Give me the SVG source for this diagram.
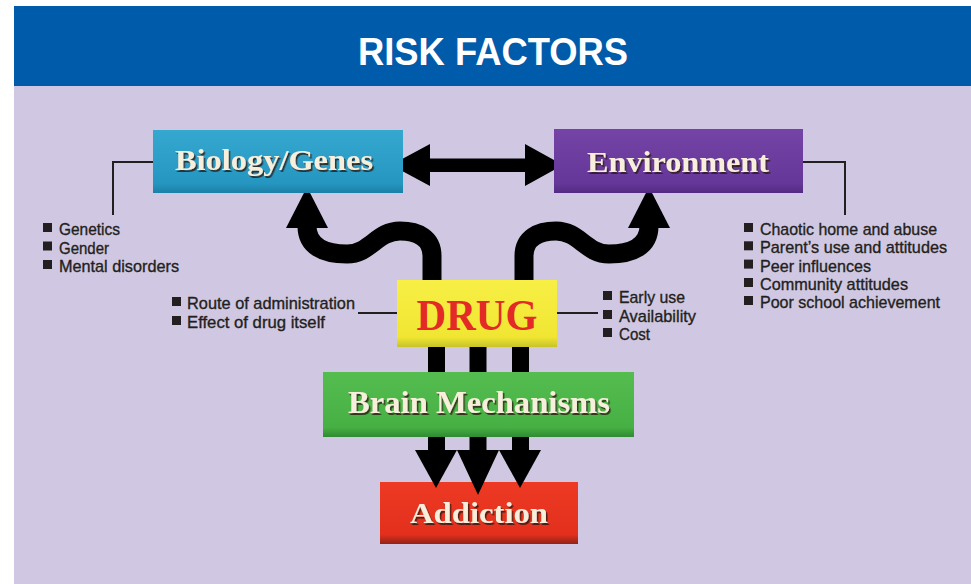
<svg xmlns="http://www.w3.org/2000/svg" width="971" height="584" viewBox="0 0 971 584">
<defs>
<style>
.lbl{font-family:"Liberation Serif","Times New Roman",serif;font-weight:bold;fill:#F7EEDB;text-anchor:middle}
.lst{font-family:"Liberation Sans",Arial,sans-serif;font-size:17px;fill:#231F20;stroke:#231F20;stroke-width:0.35}
.ln{stroke:#231F20;stroke-width:2;fill:none}
.blt{fill:#231F20}
.worm{stroke:#000;stroke-width:19;fill:none}
</style>
<filter id="ts" x="-10%" y="-20%" width="120%" height="150%">
<feDropShadow dx="1.5" dy="2" stdDeviation="0.7" flood-color="#2a1a10" flood-opacity="0.8"/>
</filter>
<linearGradient id="gBio" x1="0" y1="0" x2="0" y2="1"><stop offset="0" stop-color="#35A8D0"/><stop offset="0.85" stop-color="#2596C0"/><stop offset="1" stop-color="#1B7FA6"/></linearGradient>
<linearGradient id="gEnv" x1="0" y1="0" x2="0" y2="1"><stop offset="0" stop-color="#7444A6"/><stop offset="0.85" stop-color="#653799"/><stop offset="1" stop-color="#522a82"/></linearGradient>
<linearGradient id="gDrug" x1="0" y1="0" x2="0" y2="1"><stop offset="0" stop-color="#F7EF45"/><stop offset="0.85" stop-color="#F0E632"/><stop offset="1" stop-color="#C9C22a"/></linearGradient>
<linearGradient id="gBrain" x1="0" y1="0" x2="0" y2="1"><stop offset="0" stop-color="#55BD50"/><stop offset="0.85" stop-color="#47B044"/><stop offset="1" stop-color="#2f8a33"/></linearGradient>
<linearGradient id="gAdd" x1="0" y1="0" x2="0" y2="1"><stop offset="0" stop-color="#EE3A24"/><stop offset="0.85" stop-color="#E2301D"/><stop offset="1" stop-color="#8f2318"/></linearGradient>
</defs>
<rect x="0" y="0" width="971" height="584" fill="#FFFFFF"/>
<rect x="14" y="86" width="957" height="498" fill="#D0C8E2"/>
<g id="header">
<rect x="14" y="6" width="957" height="80" fill="#005BAA"/>
<text x="493" y="65" font-family="'Liberation Sans',Arial,sans-serif" font-weight="bold" font-size="39" fill="#FFFFFF" text-anchor="middle" textLength="270" lengthAdjust="spacingAndGlyphs">RISK FACTORS</text>
</g>
<g id="addiction">
<rect x="380" y="482" width="198" height="62" fill="url(#gAdd)"/>
<text class="lbl" x="479" y="523" font-size="30" textLength="138" lengthAdjust="spacingAndGlyphs" filter="url(#ts)">Addiction</text>
</g>
<g id="connectors">
<polyline class="ln" points="153,162 113,162 113,215"/>
<polyline class="ln" points="803,162 845,162 845,215"/>
<line class="ln" x1="358" y1="313" x2="397" y2="313"/>
<line class="ln" x1="557" y1="313" x2="598" y2="313"/>
<polygon points="391,165 430,144 430,158.5 525,158.5 525,144 563,165 525,186 525,172 430,172 430,186" fill="#000"/>
<path class="worm" d="M432,281 L432,256 C432,238 418,231 400,231 C377,231 370,254 347,254 C323,254 307,246 307,226"/>
<polygon points="286,228 328,228 307,187" fill="#000"/>
<path class="worm" d="M524,281 L524,256 C524,238 538,231 556,231 C579,231 586,254 609,254 C633,254 649,246 649,226"/>
<polygon points="628,228 670,228 649,187" fill="#000"/>
<rect x="428" y="345" width="17" height="107" fill="#000"/>
<rect x="469.5" y="345" width="17" height="107" fill="#000"/>
<rect x="512" y="345" width="17" height="107" fill="#000"/>
<polygon points="415,450 457,450 436,488" fill="#000"/>
<polygon points="457,450 499,450 478,495" fill="#000"/>
<polygon points="499,450 541,450 520,488" fill="#000"/>
</g>
<g id="brain">
<rect x="323" y="372" width="311" height="65" fill="url(#gBrain)"/>
<text class="lbl" x="479" y="413" font-size="31" textLength="262" lengthAdjust="spacingAndGlyphs" filter="url(#ts)">Brain Mechanisms</text>
</g>
<g id="drug">
<rect x="397" y="280" width="160" height="67" fill="url(#gDrug)"/>
<text x="477" y="330" font-family="'Liberation Serif','Times New Roman',serif" font-weight="bold" font-size="44" fill="#E42A26" text-anchor="middle" textLength="121" lengthAdjust="spacingAndGlyphs">DRUG</text>
</g>
<g id="biology">
<rect x="153" y="130" width="250" height="63" fill="url(#gBio)"/>
<text class="lbl" x="274" y="170" font-size="30" textLength="198" lengthAdjust="spacingAndGlyphs" filter="url(#ts)">Biology/Genes</text>
</g>
<g id="environment">
<rect x="554" y="129" width="249" height="64" fill="url(#gEnv)"/>
<text class="lbl" x="678" y="172" font-size="30" textLength="182" lengthAdjust="spacingAndGlyphs" filter="url(#ts)">Environment</text>
</g>
<g id="bio-list">
<rect class="blt" x="43" y="223" width="9" height="9"/>
<rect class="blt" x="43" y="241.5" width="9" height="9"/>
<rect class="blt" x="43" y="260" width="9" height="9"/>
<text class="lst" x="59" y="235" textLength="61" lengthAdjust="spacingAndGlyphs">Genetics</text>
<text class="lst" x="59" y="253.5" textLength="50" lengthAdjust="spacingAndGlyphs">Gender</text>
<text class="lst" x="59" y="272" textLength="120" lengthAdjust="spacingAndGlyphs">Mental disorders</text>
</g>
<g id="env-list">
<rect class="blt" x="744" y="223" width="9" height="9"/>
<rect class="blt" x="744" y="241.3" width="9" height="9"/>
<rect class="blt" x="744" y="259.6" width="9" height="9"/>
<rect class="blt" x="744" y="278" width="9" height="9"/>
<rect class="blt" x="744" y="296" width="9" height="9"/>
<text class="lst" x="760" y="235" textLength="177" lengthAdjust="spacingAndGlyphs">Chaotic home and abuse</text>
<text class="lst" x="760" y="253.3" textLength="187" lengthAdjust="spacingAndGlyphs">Parent’s use and attitudes</text>
<text class="lst" x="760" y="271.6" textLength="111" lengthAdjust="spacingAndGlyphs">Peer influences</text>
<text class="lst" x="760" y="290" textLength="148" lengthAdjust="spacingAndGlyphs">Community attitudes</text>
<text class="lst" x="760" y="308" textLength="180" lengthAdjust="spacingAndGlyphs">Poor school achievement</text>
</g>
<g id="drug-left-list">
<rect class="blt" x="172" y="297" width="9" height="9"/>
<rect class="blt" x="172" y="316" width="9" height="9"/>
<text class="lst" x="187" y="309" textLength="168" lengthAdjust="spacingAndGlyphs">Route of administration</text>
<text class="lst" x="187" y="328" textLength="138" lengthAdjust="spacingAndGlyphs">Effect of drug itself</text>
</g>
<g id="drug-right-list">
<rect class="blt" x="603" y="291" width="9" height="9"/>
<rect class="blt" x="603" y="310" width="9" height="9"/>
<rect class="blt" x="603" y="328" width="9" height="9"/>
<text class="lst" x="619" y="303" textLength="66" lengthAdjust="spacingAndGlyphs">Early use</text>
<text class="lst" x="619" y="322" textLength="77" lengthAdjust="spacingAndGlyphs">Availability</text>
<text class="lst" x="619" y="340" textLength="31" lengthAdjust="spacingAndGlyphs">Cost</text>
</g>
</svg>
